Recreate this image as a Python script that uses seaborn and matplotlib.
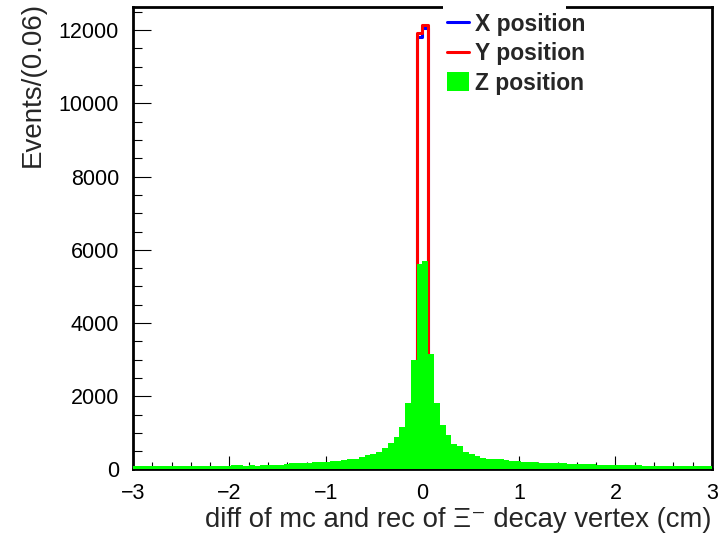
import numpy as np
import matplotlib
matplotlib.use("Agg")
import matplotlib.pyplot as plt
import seaborn as sns
from matplotlib.lines import Line2D
from matplotlib.patches import Patch, Rectangle
from matplotlib.ticker import MultipleLocator

# 100 bins of width 0.06 from -3 to 3
bin_edges = [round(-3.0 + 0.06 * i, 2) for i in range(101)]
bin_centers = [round(-2.97 + 0.06 * i, 2) for i in range(100)]

# Z position: wide peak with long tails
z_counts = [
    86, 90, 88, 92, 87, 90, 93, 89, 91, 88,
    92, 90, 94, 91, 95, 108, 104, 110, 112, 107,
    111, 109, 114, 110, 113, 116, 160, 165, 170, 185,
    190, 195, 212, 218, 222, 235, 262, 280, 298, 338,
    384, 420, 484, 580, 710, 900, 1170, 1810, 2990, 5600,
    5690, 3150, 1810, 1210, 945, 705, 630, 484, 430, 365,
    322, 300, 288, 274, 262, 240, 225, 218, 214, 210,
    190, 186, 183, 180, 178, 160, 157, 154, 150, 148,
    124, 120, 118, 121, 117, 115, 119, 116, 92, 90,
    88, 91, 89, 93, 90, 87, 91, 89, 88, 90,
]

# X / Y position: almost everything in the two central bins
y_counts = (
    [2] * 15 + [20] * 11 + [35] * 12 + [60] * 11
    + [11918, 12137]
    + [60] * 9 + [45] * 7 + [30] * 9 + [3] * 24
)
x_counts = (
    [2] * 15 + [15] * 11 + [30] * 12 + [55] * 11
    + [11808, 12055]
    + [55] * 9 + [40] * 7 + [25] * 9 + [3] * 24
)

labels = ["X position", "Y position", "Z position"]
colors = ["#0000ff", "#ff0000", "#00ff00"]

sns.set_theme(style="white")
plt.rcParams["font.family"] = ["Liberation Sans", "DejaVu Sans"]

fig = plt.figure(figsize=(7.22, 5.34), dpi=100)
ax = fig.add_axes([0.1842, 0.1208, 0.8019, 0.8652])

sns.histplot(
    x=bin_centers, weights=x_counts, bins=bin_edges,
    element="step", fill=False, color=colors[0],
    linewidth=2.2, ax=ax, zorder=2
)
sns.histplot(
    x=bin_centers, weights=y_counts, bins=bin_edges,
    element="step", fill=False, color=colors[1],
    linewidth=2.2, ax=ax, zorder=2.1
)
sns.histplot(
    x=bin_centers, weights=z_counts, bins=bin_edges,
    element="step", fill=True, color=colors[2], alpha=1,
    linewidth=0, ax=ax, zorder=3
)

ax.set_xlim(-3, 3)
ax.set_ylim(0, 12620)

ax.xaxis.set_major_locator(MultipleLocator(1))
ax.xaxis.set_minor_locator(MultipleLocator(0.2))
ax.yaxis.set_major_locator(MultipleLocator(2000))
ax.yaxis.set_minor_locator(MultipleLocator(500))

ax.tick_params(axis="x", which="major", direction="in", length=9.5,
               width=0.8, pad=9.5, labelsize=15.5, colors="black")
ax.tick_params(axis="x", which="minor", direction="in", length=5,
               width=0.8, colors="black")
ax.tick_params(axis="y", which="major", direction="in", length=13,
               width=0.8, pad=10, labelsize=15.5, colors="black")
ax.tick_params(axis="y", which="minor", direction="in", length=6.5,
               width=0.8, colors="black")
ax.tick_params(top=False, right=False, bottom=True, left=True, which="both")

for spine in ax.spines.values():
    spine.set_color("black")
    spine.set_linewidth(2)

ax.set_xlabel("diff of mc and rec of Ξ⁻ decay vertex (cm)", fontsize=19.8, loc="right")
ax.xaxis.set_label_coords(1.0, -0.081)
ax.set_ylabel("Events/(0.06)", fontsize=20, loc="top")
ax.yaxis.set_label_coords(-0.15, 1.012)

handles = [
    Line2D([0], [0], color=colors[0], linewidth=2.2),
    Line2D([0], [0], color=colors[1], linewidth=2.2),
    Patch(facecolor=colors[2], edgecolor="none"),
]
legend = ax.legend(
    handles, labels,
    loc="upper left", bbox_to_anchor=(440 / 722, 1 - 6 / 534),
    bbox_transform=fig.transFigure,
    prop={"weight": "bold", "size": 16.5},
    frameon=False, borderpad=0.3,
    handlelength=0.96, handleheight=0.9, handletextpad=0.27,
    labelspacing=0.28, borderaxespad=0,
)

# the legend box hides part of the top frame line
fig.add_artist(Rectangle((443 / 722, 1 - 13 / 534), 123 / 722, 11 / 534,
                         transform=fig.transFigure, facecolor="white",
                         edgecolor="none", zorder=5))

fig.savefig("out.png", dpi=100)
